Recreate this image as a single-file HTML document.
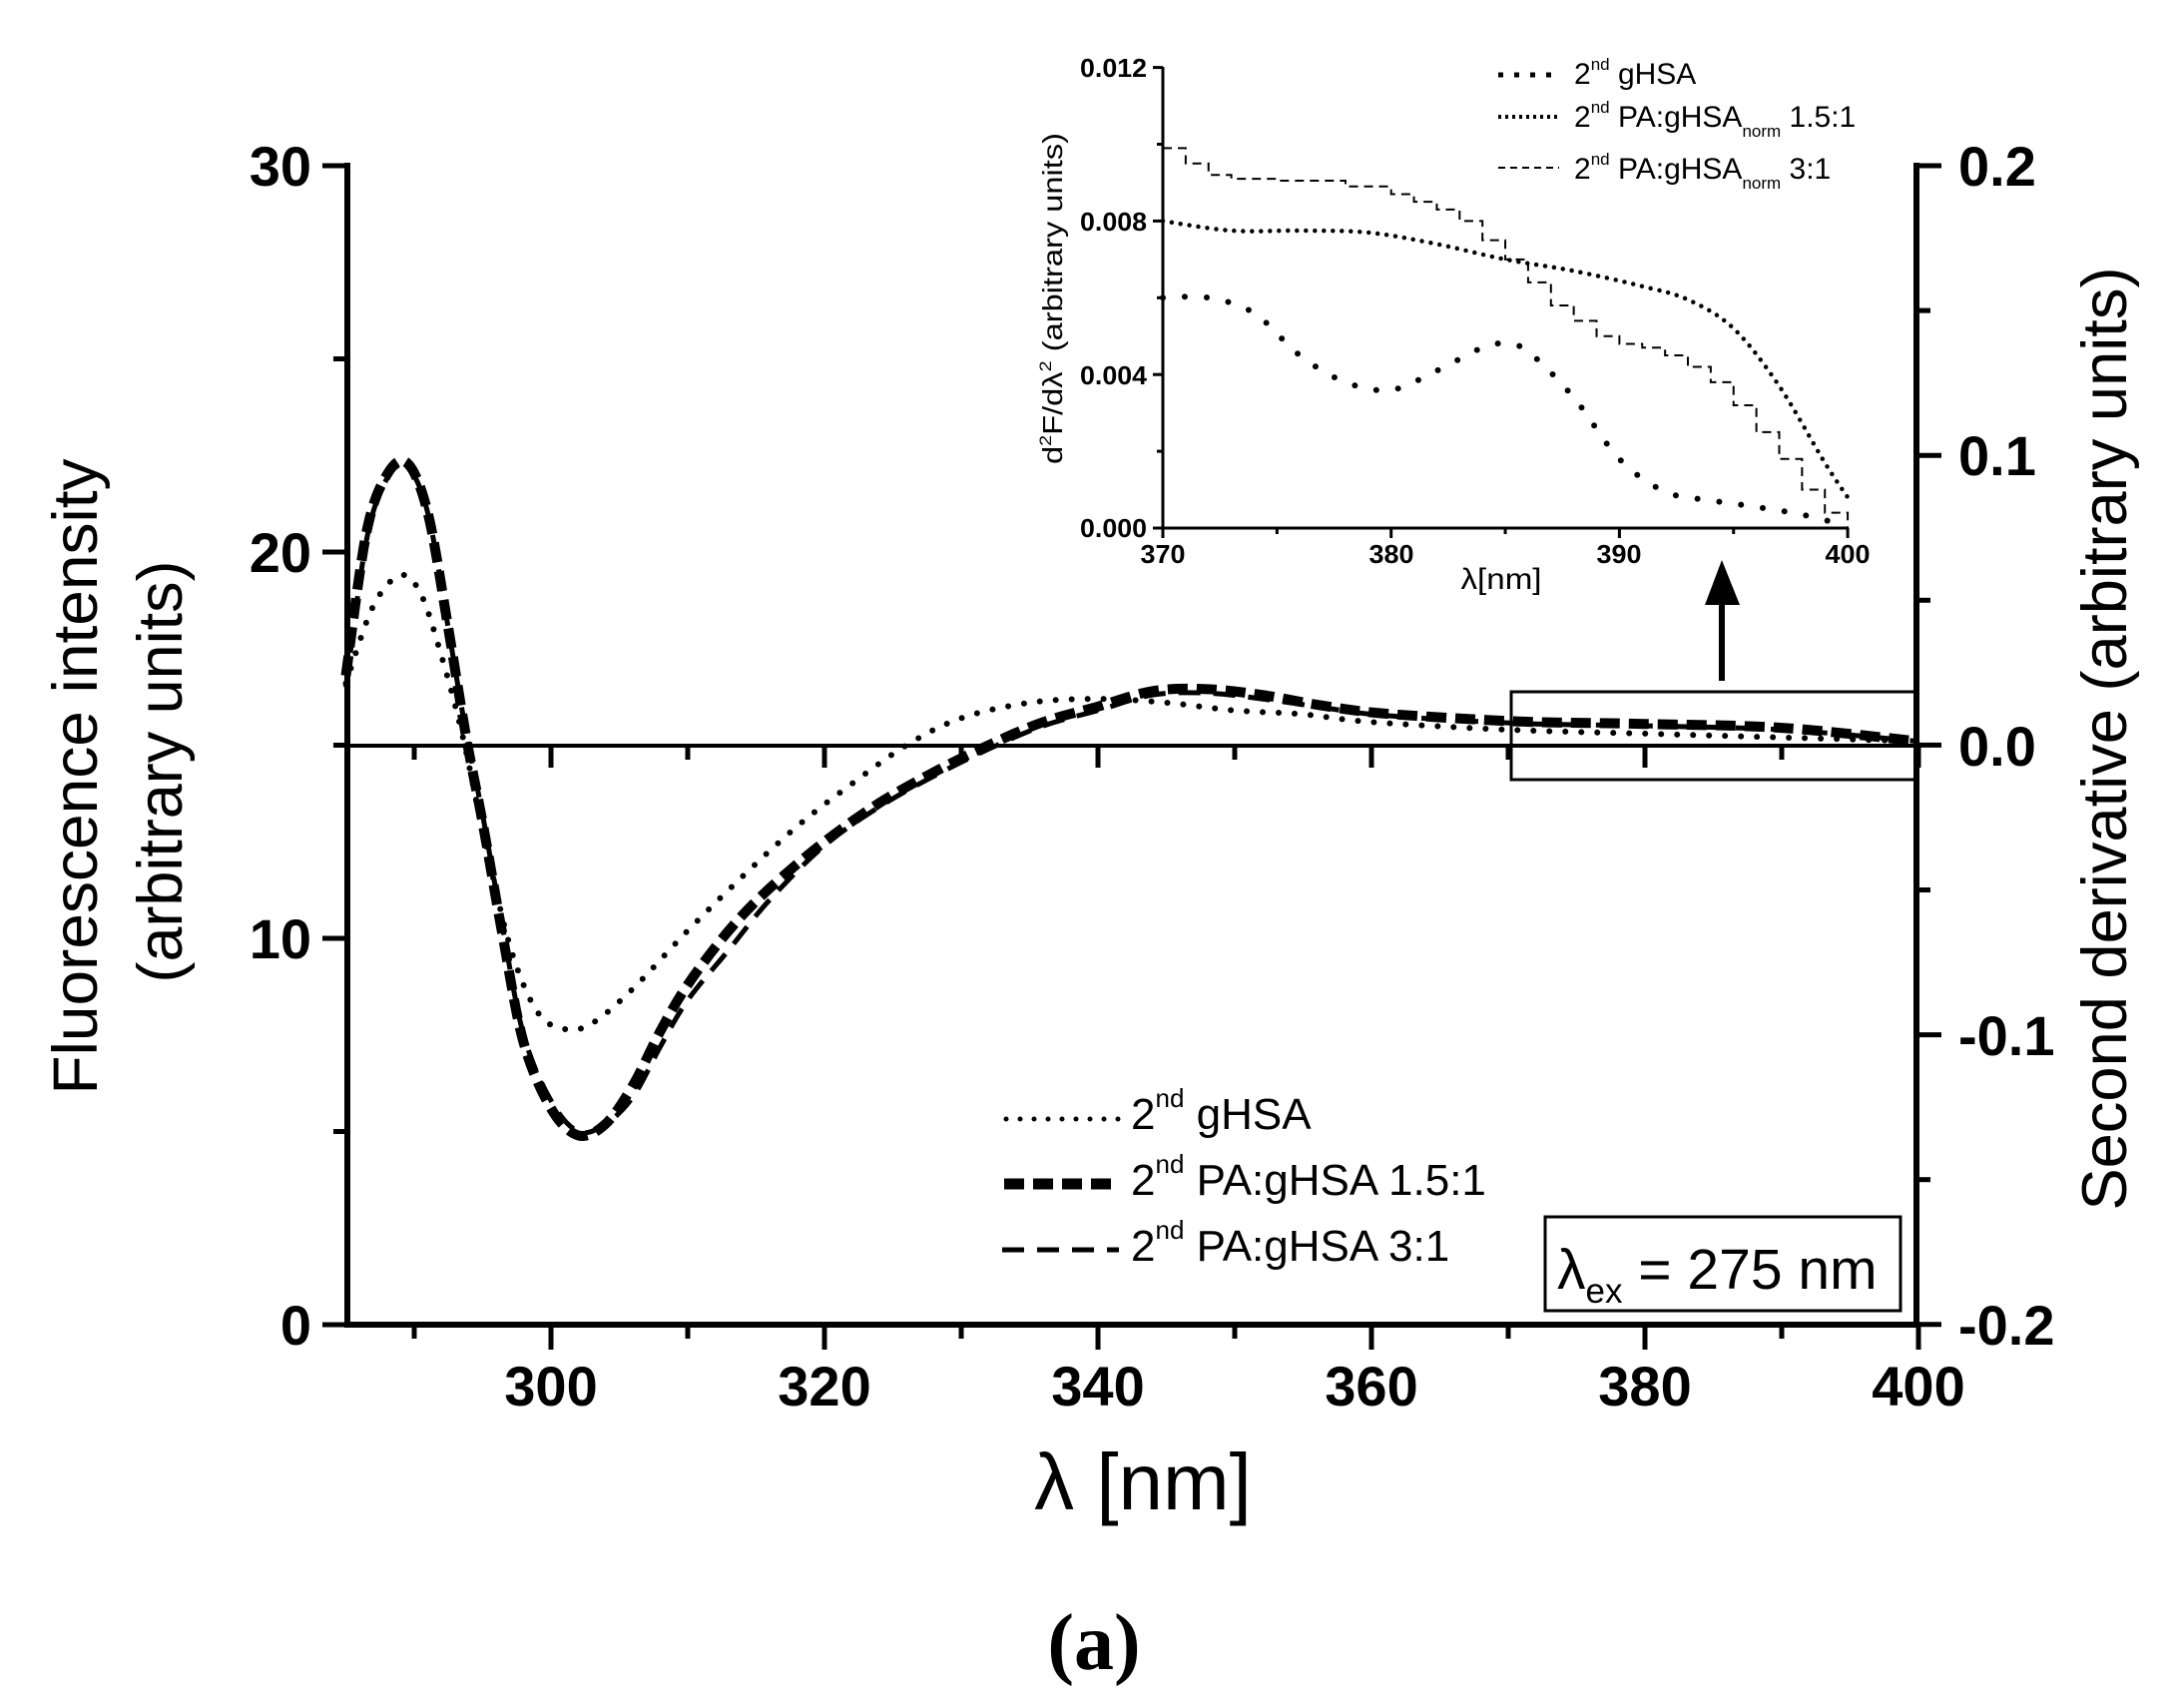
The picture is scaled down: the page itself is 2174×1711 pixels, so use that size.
<!DOCTYPE html>
<html><head><meta charset="utf-8">
<style>
html,body{margin:0;padding:0;background:#fff;}
svg{display:block;}
text{font-family:"Liberation Sans",Arial,sans-serif;fill:#000;}
</style></head>
<body>
<svg id="s" width="2174" height="1711" viewBox="0 0 2174 1711" xmlns="http://www.w3.org/2000/svg">
<rect width="2174" height="1711" fill="#fff"/>
<g id="axes" stroke="#000" fill="none" stroke-linecap="square">
  <line x1="348" y1="166" x2="348" y2="1327" stroke-width="6"/>
  <line x1="1920" y1="166" x2="1920" y2="1327" stroke-width="6"/>
  <line x1="348" y1="1327" x2="1920" y2="1327" stroke-width="6"/>
  <line x1="348" y1="747" x2="1920" y2="747" stroke-width="4"/>
</g>
<g id="ticks" stroke="#000" stroke-width="5"></g>
<g font-weight="bold" font-size="56">
  <text x="312" y="186" text-anchor="end">30</text>
  <text x="312" y="573" text-anchor="end">20</text>
  <text x="312" y="960" text-anchor="end">10</text>
  <text x="312" y="1347" text-anchor="end">0</text>
  <text x="1962" y="186">0.2</text>
  <text x="1962" y="476">0.1</text>
  <text x="1962" y="767">0.0</text>
  <text x="1962" y="1057">-0.1</text>
  <text x="1962" y="1347">-0.2</text>
  <text x="552" y="1408" text-anchor="middle">300</text>
  <text x="826" y="1408" text-anchor="middle">320</text>
  <text x="1100" y="1408" text-anchor="middle">340</text>
  <text x="1374" y="1408" text-anchor="middle">360</text>
  <text x="1648" y="1408" text-anchor="middle">380</text>
  <text x="1922" y="1408" text-anchor="middle">400</text>
</g>
<text x="1145" y="1512" text-anchor="middle" font-size="80">λ [nm]</text>
<text x="1096" y="1672" text-anchor="middle" font-size="80" font-weight="bold" style="font-family:'Liberation Serif',serif">(a)</text>
<text transform="translate(97,778) rotate(-90)" text-anchor="middle" font-size="63" textLength="637" lengthAdjust="spacingAndGlyphs">Fluorescence intensity</text>
<text transform="translate(182,773) rotate(-90)" text-anchor="middle" font-size="63" textLength="423" lengthAdjust="spacingAndGlyphs">(arbitrary units)</text>
<text transform="translate(2130,740) rotate(-90)" text-anchor="middle" font-size="63" textLength="945" lengthAdjust="spacingAndGlyphs">Second derivative (arbitrary units)</text>

<g fill="none" stroke="#000">
  <line x1="1008" y1="1121" x2="1121" y2="1121" stroke-width="5" stroke-dasharray="0 14" stroke-linecap="round"/>
  <line x1="1006" y1="1186" x2="1121" y2="1186" stroke-width="11" stroke-dasharray="20 9"/>
  <line x1="1004" y1="1252" x2="1121" y2="1252" stroke-width="5" stroke-dasharray="22 13"/>
</g>
<g font-size="44">
  <text x="1133" y="1131">2<tspan font-size="26" dy="-22">nd</tspan><tspan dy="22"> gHSA</tspan></text>
  <text x="1133" y="1197">2<tspan font-size="26" dy="-22">nd</tspan><tspan dy="22"> PA:gHSA 1.5:1</tspan></text>
  <text x="1133" y="1263">2<tspan font-size="26" dy="-22">nd</tspan><tspan dy="22"> PA:gHSA 3:1</tspan></text>
</g>
<rect x="1548" y="1219" width="356" height="94" fill="none" stroke="#000" stroke-width="3"/>
<text x="1560" y="1291" font-size="57">λ<tspan font-size="35" dy="14">ex</tspan><tspan dy="-14"> = 275 nm</tspan></text>

<rect x="1514" y="693" width="406" height="88" fill="none" stroke="#000" stroke-width="3"/>
<line x1="1725" y1="682" x2="1725" y2="600" stroke="#000" stroke-width="6"/>
<polygon points="1708,606 1743,606 1725,561" fill="#000"/>

<g stroke="#000" stroke-width="3" fill="none">
  <line x1="1165" y1="67" x2="1165" y2="529"/>
  <line x1="1165" y1="529" x2="1851" y2="529"/>
</g>
<g id="iticks" stroke="#000" stroke-width="3"></g>
<g font-weight="bold" font-size="26">
  <text x="1149" y="77" text-anchor="end" textLength="67" lengthAdjust="spacingAndGlyphs">0.012</text>
  <text x="1149" y="231" text-anchor="end" textLength="67" lengthAdjust="spacingAndGlyphs">0.008</text>
  <text x="1149" y="385" text-anchor="end" textLength="67" lengthAdjust="spacingAndGlyphs">0.004</text>
  <text x="1149" y="538" text-anchor="end" textLength="67" lengthAdjust="spacingAndGlyphs">0.000</text>
  <text x="1165" y="564" text-anchor="middle" textLength="45" lengthAdjust="spacingAndGlyphs">370</text>
  <text x="1394" y="564" text-anchor="middle" textLength="45" lengthAdjust="spacingAndGlyphs">380</text>
  <text x="1622" y="564" text-anchor="middle" textLength="45" lengthAdjust="spacingAndGlyphs">390</text>
  <text x="1851" y="564" text-anchor="middle" textLength="45" lengthAdjust="spacingAndGlyphs">400</text>
</g>
<text x="1504" y="590" text-anchor="middle" font-size="30" textLength="81" lengthAdjust="spacingAndGlyphs">λ[nm]</text>
<text transform="translate(1064,299) rotate(-90)" text-anchor="middle" font-size="28" textLength="332" lengthAdjust="spacingAndGlyphs">d<tspan font-size="17" dy="-11">2</tspan><tspan dy="11">F/dλ</tspan><tspan font-size="17" dy="-11">2</tspan><tspan dy="11"> (arbitrary units)</tspan></text>
<g fill="none" stroke="#000">
  <line x1="1501" y1="75" x2="1562" y2="75" stroke-width="5" stroke-dasharray="5 11"/>
  <line x1="1501" y1="117" x2="1562" y2="117" stroke-width="4" stroke-dasharray="3 4"/>
  <line x1="1501" y1="168" x2="1562" y2="168" stroke-width="2" stroke-dasharray="7 5"/>
</g>
<g font-size="30">
  <text x="1577" y="84">2<tspan font-size="17" dy="-14">nd</tspan><tspan dy="14"> gHSA</tspan></text>
  <text x="1577" y="127">2<tspan font-size="17" dy="-14">nd</tspan><tspan dy="14"> PA:gHSA</tspan><tspan font-size="17" dy="10">norm</tspan><tspan dy="-10"> 1.5:1</tspan></text>
  <text x="1577" y="179">2<tspan font-size="17" dy="-14">nd</tspan><tspan dy="14"> PA:gHSA</tspan><tspan font-size="17" dy="10">norm</tspan><tspan dy="-10"> 3:1</tspan></text>
</g>
<g id="curves" fill="none" stroke="#000"></g>
</svg>
<script>
var NS="http://www.w3.org/2000/svg";
function el(p,n,a){var e=document.createElementNS(NS,n);for(var k in a)e.setAttribute(k,a[k]);p.appendChild(e);return e;}
var T=document.getElementById('ticks'),IT=document.getElementById('iticks'),C=document.getElementById('curves');
function X(l){return 552+(l-300)*13.7;}
function Y(v){return 1327-v*38.7;}
for(var l=290;l<=400;l+=10){var maj=(l%20==0);el(T,'line',{x1:X(l),y1:1327,x2:X(l),y2:1327+(maj?25:14)});
 el(T,'line',{x1:X(l),y1:747,x2:X(l),y2:747+(maj?22:14)});}
for(var v=0;v<=30;v+=5){var maj=(v%10==0);el(T,'line',{x1:348,y1:Y(v),x2:348-(maj?25:14),y2:Y(v)});}
for(var i=0;i<=8;i++){var y=166+i*145.1;el(T,'line',{x1:1920,y1:y,x2:1920+(i%2==0?25:14),y2:y});}
function IX(l){return 1165+(l-370)*22.87;}
function IY(v){return 529-v*38.45;}
for(var l=370;l<=400;l+=5){el(IT,'line',{x1:IX(l),y1:529,x2:IX(l),y2:529+(l%10==0?10:6)});}
for(var v=0;v<=12;v+=2){el(IT,'line',{x1:1165,y1:IY(v),x2:1165-(v%4==0?10:6),y2:IY(v)});}
function cr(pts){var d='M'+pts[0][0].toFixed(1)+','+pts[0][1].toFixed(1);
 for(var i=0;i<pts.length-1;i++){var p0=pts[i-1]||pts[i],p1=pts[i],p2=pts[i+1],p3=pts[i+2]||p2;
  d+='C'+(p1[0]+(p2[0]-p0[0])/6).toFixed(1)+','+(p1[1]+(p2[1]-p0[1])/6).toFixed(1)+' '+(p2[0]-(p3[0]-p1[0])/6).toFixed(1)+','+(p2[1]-(p3[1]-p1[1])/6).toFixed(1)+' '+p2[0].toFixed(1)+','+p2[1].toFixed(1);}
 return d;}
function main(data){return data.map(function(p){return [X(p[0]),Y(p[1])];});}
function ins(data){return data.map(function(p){return [IX(p[0]),IY(p[1])];});}
var g1=[[285,16.6],[287,18.6],[289,19.4],[290.5,18.9],[292,17.3],[293.5,15.3],[295,12.8],[297,9.8],[299,8.1],[301,7.65],[303,7.8],[306,8.7],[310,10.2],[314,11.6],[318,12.9],[322,14.0],[326,15.0],[330,15.7],[335,16.1],[340,16.2],[345,16.1],[350,15.9],[355,15.8],[360,15.6],[370,15.4],[380,15.3],[390,15.2],[400,15.1]];
var g2=[[285,16.8],[286.5,20.5],[288,22.0],[289.5,22.3],[291,21.0],[292.5,18.0],[293.8,15.2],[295,13.0],[296.5,10.0],[298,7.3],[300,5.6],[302,4.9],[304,5.2],[306,6.2],[308,7.6],[310,8.8],[313,10.2],[316,11.3],[320,12.5],[324,13.5],[328,14.3],[332,15.0],[336,15.6],[340,16.0],[344,16.4],[348,16.45],[352,16.3],[356,16.05],[360,15.85],[366,15.7],[372,15.6],[380,15.55],[390,15.45],[400,15.1]];
var g3=[[285,16.5],[286.5,20.3],[288,21.9],[289.5,22.2],[291,21.0],[292.5,18.0],[293.8,15.3],[295,13.2],[296.5,10.2],[298,7.5],[300,5.8],[302,5.0],[304,5.2],[306,5.9],[308,7.2],[310,8.4],[313,9.7],[316,11.0],[320,12.4],[324,13.4],[328,14.2],[332,14.9],[336,15.5],[340,15.9],[344,16.3],[348,16.35],[352,16.2],[356,16.0],[360,15.8],[366,15.65],[372,15.55],[380,15.5],[390,15.4],[400,15.1]];
el(C,'path',{d:cr(main(g1)),'stroke-width':6,'stroke-dasharray':'0 16','stroke-linecap':'round'});
el(C,'path',{d:cr(main(g2)),'stroke-width':10,'stroke-dasharray':'20 9'});
el(C,'path',{d:cr(main(g3)),'stroke-width':5,'stroke-dasharray':'22 13'});
var i1=[[370,6.0],[372,6.0],[374,5.6],[376,4.5],[378,3.8],[380,3.6],[382,4.1],[384,4.7],[385,4.8],[386,4.6],[388,3.4],[390,1.8],[392,0.95],[394,0.72],[396,0.55],[398,0.35],[400,0.05]];
var i2=[[370,8.0],[373,7.75],[376,7.75],[379,7.7],[382,7.4],[385,7.0],[388,6.7],[391,6.3],[393,5.95],[395,5.2],[397,3.7],[399,1.7],[400,0.8]];
var s3=[[370,9.9],[371,9.5],[372,9.2],[373,9.1],[375,9.05],[378,8.9],[380,8.7],[381,8.5],[382,8.3],[383,8.0],[384,7.5],[385,7.0],[386,6.4],[387,5.8],[388,5.4],[389,5.0],[390,4.8],[391,4.7],[392,4.5],[393,4.2],[394,3.8],[395,3.2],[396,2.5],[397,1.8],[398,1.0],[399,0.4],[400,0.0]];
el(C,'path',{d:cr(ins(i1)),'stroke-width':6,'stroke-dasharray':'0 22','stroke-linecap':'round'});
el(C,'path',{d:cr(ins(i2)),'stroke-width':4.5,'stroke-dasharray':'0 9','stroke-linecap':'round'});
var d='',p=ins(s3);d='M'+p[0][0]+','+p[0][1];for(var k=1;k<p.length;k++){d+='H'+p[k][0]+'V'+p[k][1];}
el(C,'path',{d:d,'stroke-width':2,'stroke-dasharray':'9 6'});
</script>
</body></html>
